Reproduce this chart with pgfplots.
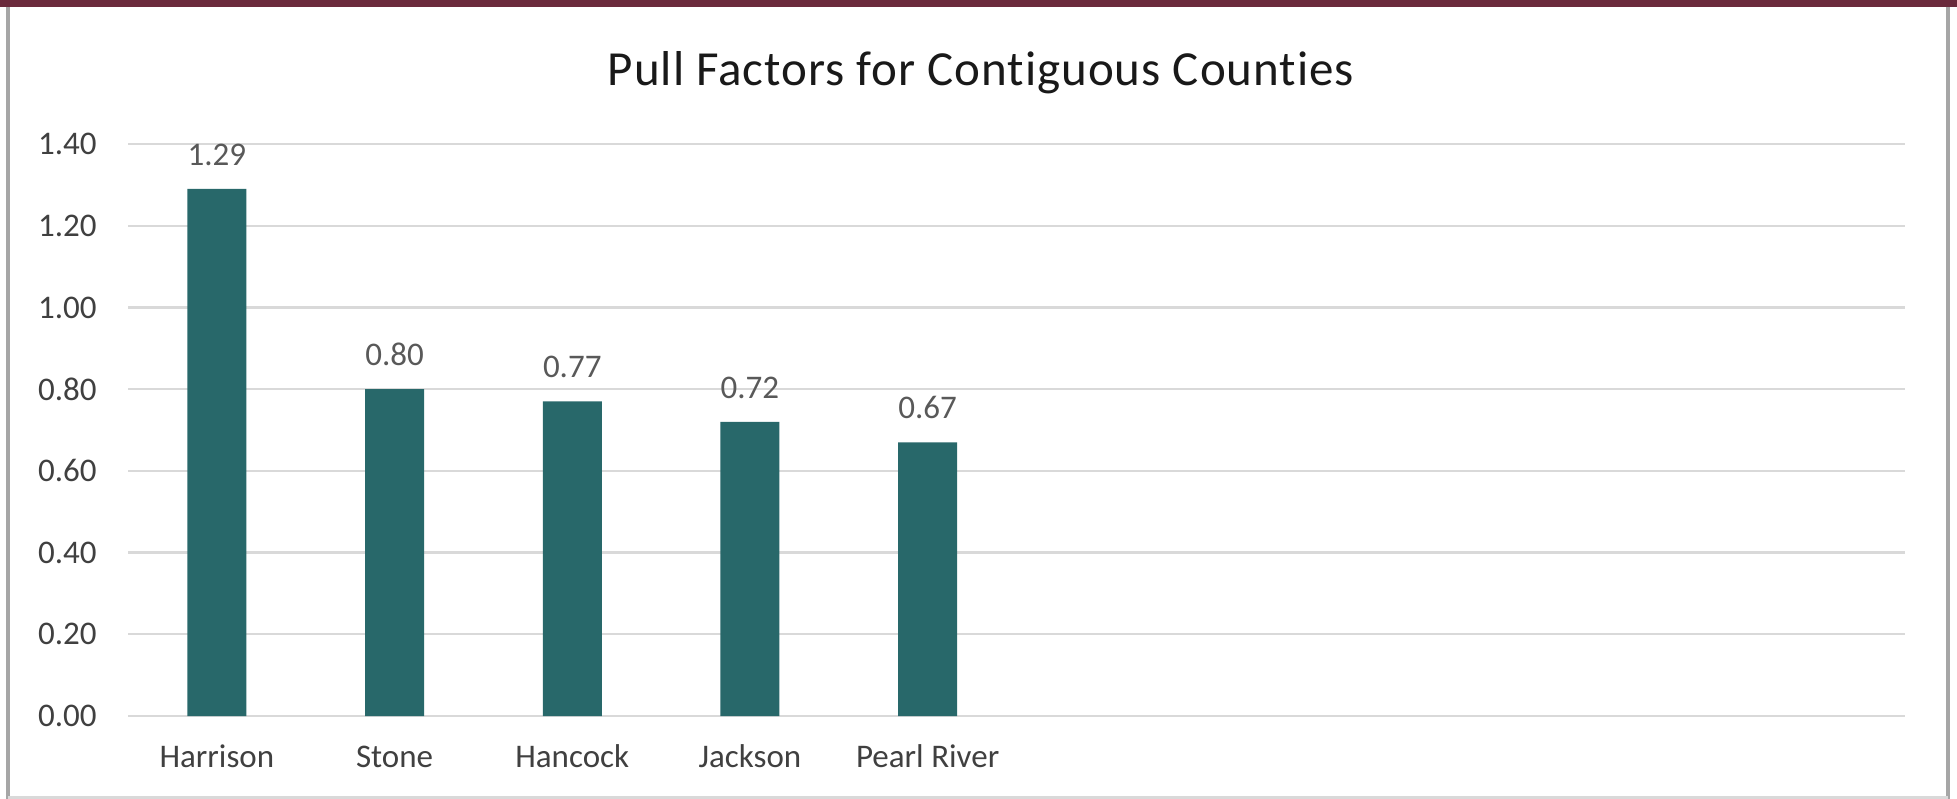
\documentclass[border=0pt]{standalone}
\usepackage{fontspec}
\setmainfont[Ligatures=NoCommon]{Carlito}
\usepackage{pgfplots}
\pgfplotsset{compat=1.18}
\definecolor{barteal}{HTML}{28686A}
\definecolor{gridgray}{HTML}{D9D9D9}
\definecolor{ticktext}{HTML}{404040}
\definecolor{valtext}{HTML}{595959}
\definecolor{maroon}{HTML}{6B2A3C}
\definecolor{framegray}{HTML}{A6A6A6}
\begin{document}
\begin{tikzpicture}
\path[use as bounding box] (0,0) rectangle (978.5bp,399.5bp);
\fill[white] (0,0) rectangle (978.5bp,399.5bp);
\fill[maroon] (0,396bp) rectangle (978.5bp,399.5bp);
\draw[framegray, line width=2bp] (4bp,0) -- (4bp,396bp);
\draw[framegray, line width=2bp] (974bp,0) -- (974bp,396bp);
\draw[gridgray, line width=1.5bp] (4bp,0.75bp) -- (974bp,0.75bp);
\node[anchor=base, inner sep=0pt, font=\fontsize{24.5bp}{28bp}\selectfont\addfontfeatures{LetterSpace=2}, text=black!90] at (490.5bp,356.5bp) {Pull Factors for Contiguous Counties};
\begin{axis}[
  at={(64bp,41.5bp)}, anchor=south west,
  scale only axis, width=888.5bp, height=286bp,
  xmin=-0.5, xmax=9.5, ymin=0, ymax=1.4,
  xtick={0,1,2,3,4},
  xticklabels={Harrison,Stone,Hancock,Jackson,Pearl River},
  ytick={0,0.2,0.4,0.6,0.8,1.0,1.2,1.4},
  major tick length=0pt,
  axis line style={draw=none},
  ymajorgrids, grid style={gridgray, line width=1.2bp},
  yticklabel style={anchor=east, inner sep=0pt, xshift=-15.5bp, text=ticktext, font=\fontsize{16.5bp}{20bp}\selectfont},
  xticklabel style={anchor=base, inner sep=0pt, yshift=-25.5bp, text=ticktext, font=\fontsize{16.5bp}{20bp}\selectfont},
  /pgf/number format/.cd, fixed, fixed zerofill, precision=2, assume math mode=true,
  /pgfplots/.cd,
  clip=false,
  ybar, bar width=29.5bp, bar shift=0pt,
  nodes near coords,
  nodes near coords style={anchor=south, inner sep=0pt, yshift=11.5bp, text=valtext, font=\fontsize{16.5bp}{20bp}\selectfont,
    /pgf/number format/.cd, fixed, fixed zerofill, precision=2, assume math mode=true},
]
\addplot[fill=barteal, draw=none] coordinates {(0,1.29) (1,0.80) (2,0.77) (3,0.72) (4,0.67)};
\end{axis}
\end{tikzpicture}
\end{document}
